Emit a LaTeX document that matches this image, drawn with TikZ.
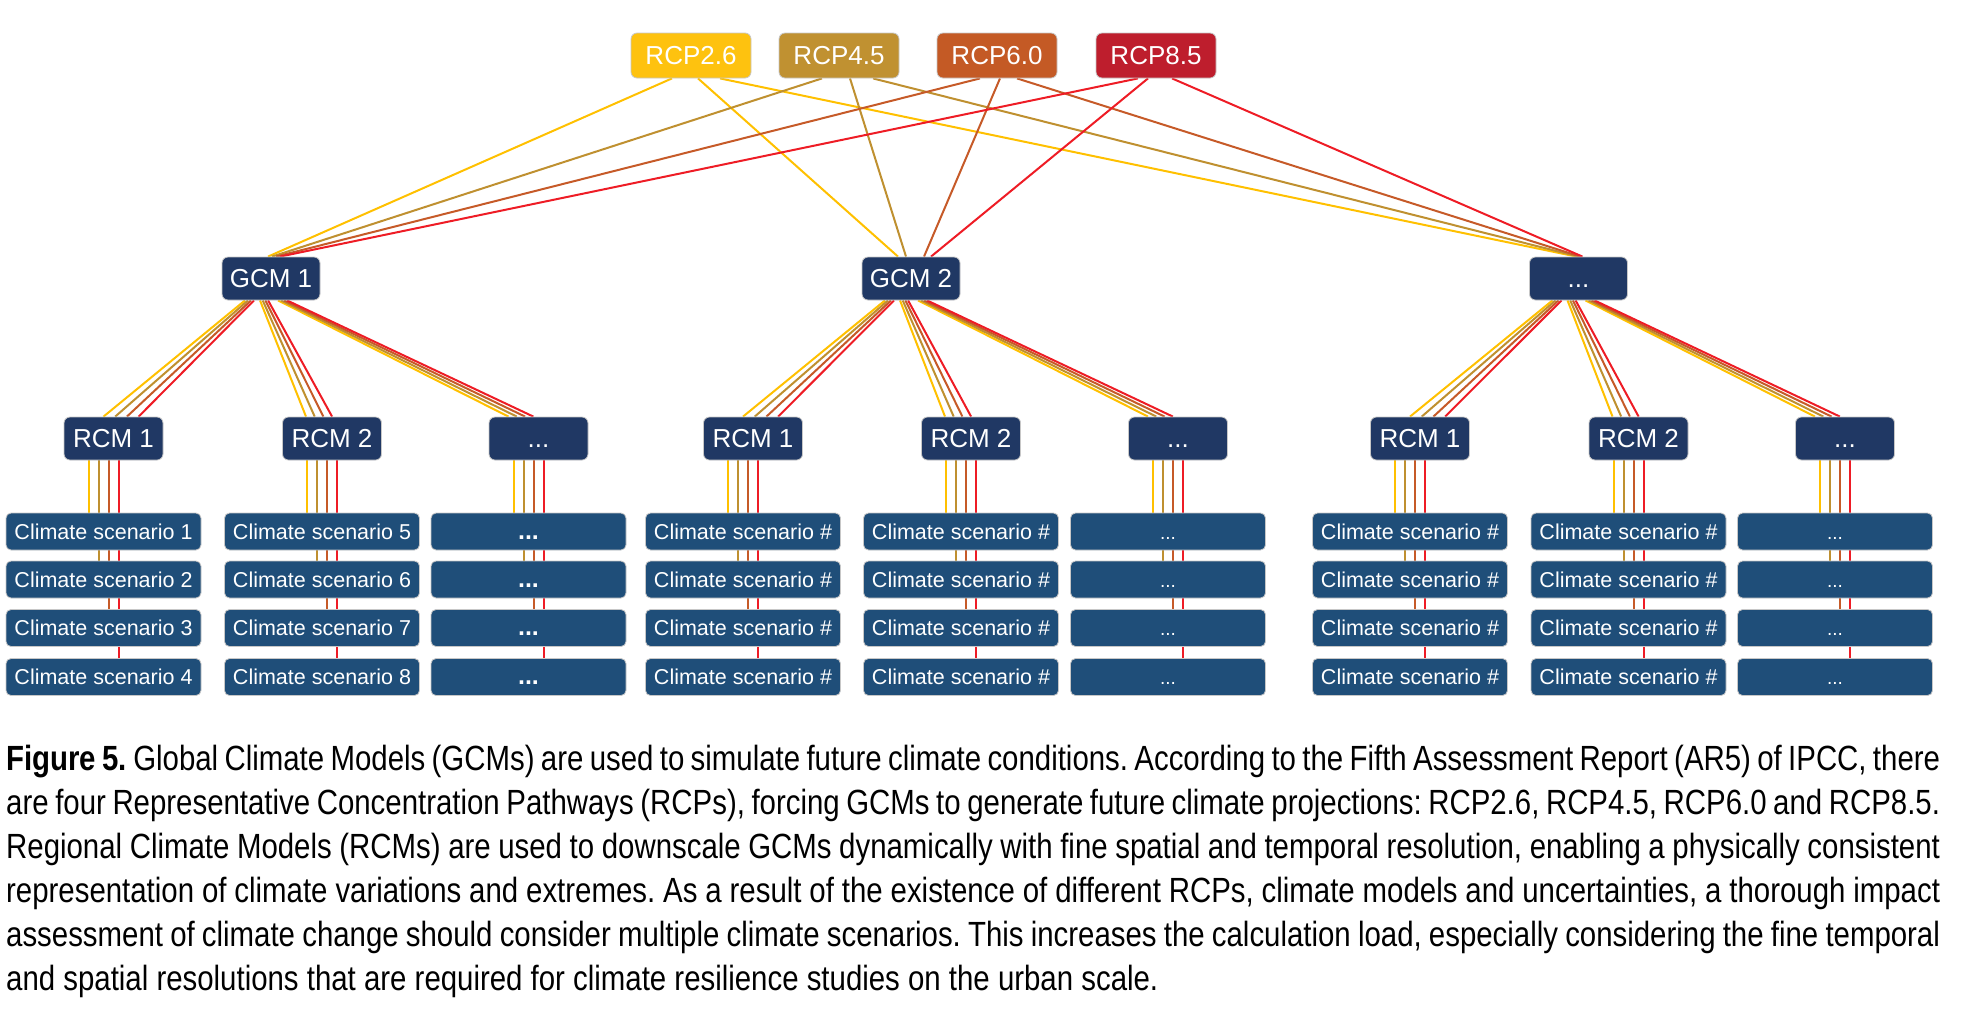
\documentclass[tikz,border=0pt]{standalone}
\usepackage{fontspec}
\setmainfont{Liberation Sans}
\newfontfamily\capfont[FakeStretch=0.84]{Liberation Sans}
\usetikzlibrary{backgrounds}
\definecolor{navy}{HTML}{203864}
\definecolor{scen}{HTML}{1F4E79}
\definecolor{b26}{HTML}{FEC20F}
\definecolor{b45}{HTML}{C09131}
\definecolor{b60}{HTML}{C45A25}
\definecolor{b85}{HTML}{BE1E2D}
\definecolor{l26}{HTML}{FFC000}
\definecolor{l45}{HTML}{BF9030}
\definecolor{l60}{HTML}{C65A28}
\definecolor{l85}{HTML}{EE1C25}
\frenchspacing

\begin{document}
\begin{tikzpicture}[x=1pt, y=-1pt,
    panel/.style={rounded corners=6pt, inner sep=0pt, text=white, draw=black!22, line width=0.8pt},
    rcp node/.style={panel, minimum width=120pt, minimum height=45pt, text height=18.6pt, text depth=0pt, font=\fontsize{26}{30}\selectfont},
    gcm node/.style={panel, fill=navy, minimum width=98pt, minimum height=43pt, text height=18.6pt, text depth=0pt, font=\fontsize{26}{30}\selectfont},
    rcm node/.style={gcm node, minimum width=99pt},
    scen node/.style={panel, rounded corners=5pt, fill=scen, minimum width=195pt, minimum height=37pt, text height=15.4pt, text depth=0pt, font=\fontsize{21.5}{26}\selectfont},
    cap line/.style={anchor=base west, inner sep=0pt, font=\capfont\fontsize{35}{44}\selectfont},
    link/.style={line width=2pt}]
    \useasboundingbox (0, 0) rectangle (1964, 1013);

    \node[rcp node, fill=b26] at (691, 55.5) (r26) {RCP2.6};
    \node[rcp node, fill=b45] at (839, 55.5) (r45) {RCP4.5};
    \node[rcp node, fill=b60] at (997, 55.5) (r60) {RCP6.0};
    \node[rcp node, fill=b85] at (1156, 55.5) (r85) {RCP8.5};

    \node[gcm node] at (271, 278.5) (g1) {GCM 1};
    \node[gcm node] at (911, 278.5) (g2) {GCM 2};
    \node[gcm node] at (1578.5, 278.5) (g3) {...};

    \node[rcm node] at (113.5, 438.5) (m1) {RCM 1};
    \node[rcm node] at (332, 438.5) (m2) {RCM 2};
    \node[rcm node] at (538.5, 438.5) (m3) {...};
    \node[rcm node] at (753, 438.5) (m4) {RCM 1};
    \node[rcm node] at (971, 438.5) (m5) {RCM 2};
    \node[rcm node] at (1178, 438.5) (m6) {...};
    \node[rcm node] at (1420, 438.5) (m7) {RCM 1};
    \node[rcm node] at (1638.5, 438.5) (m8) {RCM 2};
    \node[rcm node] at (1845, 438.5) (m9) {...};

    \foreach \i/\y in {1/531.5, 2/579.5, 3/628, 4/677} {
        \pgfmathtruncatemacro\j{\i+4}
        \node[scen node] at (103.5, \y) (s1\i) {Climate scenario \i};
        \node[scen node] at (322, \y) (s2\i) {Climate scenario \j};
        \node[scen node, font=\fontsize{25}{28}\selectfont\bfseries] at (528.5, \y) (s3\i) {...};
        \foreach \k/\x in {4/743, 5/961, 7/1410, 8/1628.5}
            \node[scen node] at (\x, \y) (s\k\i) {Climate scenario \#};
        \foreach \k/\x in {6/1168, 9/1835}
            \node[scen node, font=\fontsize{19}{23}\selectfont] at (\x, \y) (s\k\i) {...};
    }

    \begin{scope}[on background layer]
        \path
            ([xshift=-19pt]r26.south) edge[link, draw=l26] ([xshift=-3pt]g1.north)
            ([xshift=7pt]r26.south) edge[link, draw=l26] ([xshift=-13pt]g2.north)
            ([xshift=29pt]r26.south) edge[link, draw=l26] ([xshift=-2pt]g3.north)
            ([xshift=-17pt]r45.south) edge[link, draw=l45] ([xshift=1pt]g1.north)
            ([xshift=11pt]r45.south) edge[link, draw=l45] ([xshift=-5pt]g2.north)
            ([xshift=34pt]r45.south) edge[link, draw=l45] (g3.north)
            ([xshift=-17pt]r60.south) edge[link, draw=l60] ([xshift=5pt]g1.north)
            ([xshift=3pt]r60.south) edge[link, draw=l60] ([xshift=13pt]g2.north)
            ([xshift=20pt]r60.south) edge[link, draw=l60] ([xshift=2pt]g3.north)
            ([xshift=-18pt]r85.south) edge[link, draw=l85] ([xshift=9pt]g1.north)
            ([xshift=-8pt]r85.south) edge[link, draw=l85] ([xshift=20pt]g2.north)
            ([xshift=16pt]r85.south) edge[link, draw=l85] ([xshift=4pt]g3.north);

        \foreach \g/\ma/\mb/\mc in {1/1/2/3, 2/4/5/6, 3/7/8/9}
            \foreach \clr/\i in {l26/0, l45/1, l60/2, l85/3}
                \path ([xshift={(-26+3*\i)*1pt}]g\g.south) edge[link, draw=\clr] ([xshift={(-10+11.7*\i)*1pt}]m\ma.north)
                      ([xshift={(-11+2.7*\i)*1pt}]g\g.south) edge[link, draw=\clr] ([xshift={(-26+8.7*\i)*1pt}]m\mb.north)
                      ([xshift={(7+3*\i)*1pt}]g\g.south) edge[link, draw=\clr] ([xshift={(-30+8.3*\i)*1pt}]m\mc.north);

        \foreach \k in {1,...,9}
            \foreach \clr/\i in {l26/1, l45/2, l60/3, l85/4}
                \path ([xshift={(-35+10*\i)*1pt}]m\k.south) edge[link, draw=\clr] ([xshift={(-25+10*\i)*1pt}]s\k\i.center);
    \end{scope}

    \node[cap line] at (6, 770) (cap1) {\makebox[1934pt][s]{{\bfseries Figure 5.} Global Climate Models (GCMs) are used to simulate future climate conditions. According to the Fifth Assessment Report (AR5) of IPCC, there}};
    \node[cap line] at (6, 814) (cap2) {\makebox[1934pt][s]{are four Representative Concentration Pathways (RCPs), forcing GCMs to generate future climate projections: RCP2.6, RCP4.5, RCP6.0 and RCP8.5.}};
    \node[cap line] at (6, 858) (cap3) {\makebox[1934pt][s]{Regional Climate Models (RCMs) are used to downscale GCMs dynamically with fine spatial and temporal resolution, enabling a physically consistent}};
    \node[cap line] at (6, 902) (cap4) {\makebox[1934pt][s]{representation of climate variations and extremes. As a result of the existence of different RCPs, climate models and uncertainties, a thorough impact}};
    \node[cap line] at (6, 946) (cap5) {\makebox[1934pt][s]{assessment of climate change should consider multiple climate scenarios. This increases the calculation load, especially considering the fine temporal}};
    \node[cap line] at (6, 990) (cap6) {and spatial resolutions that are required for climate resilience studies on the urban scale.};
\end{tikzpicture}
\end{document}
